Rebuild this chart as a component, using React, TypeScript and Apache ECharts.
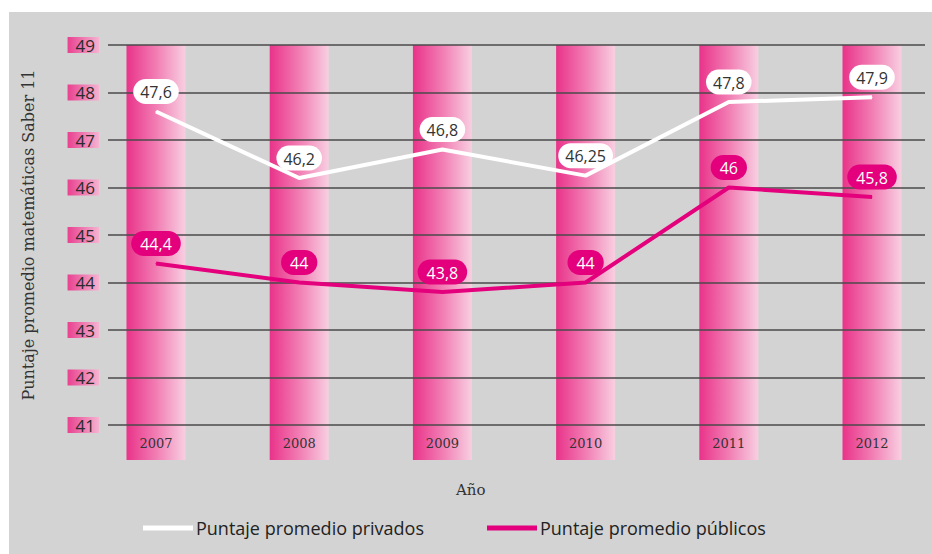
import React, { useEffect, useRef } from "react";
import * as echarts from "echarts";

const categories = ["2007", "2008", "2009", "2010", "2011", "2012"];
const privados = [47.6, 46.2, 46.8, 46.25, 47.8, 47.9];
const publicos = [44.4, 44, 43.8, 44, 46, 45.8];
const yTicks = { min: 41, max: 49, interval: 1 };
const seriesNames = ["Puntaje promedio privados", "Puntaje promedio públicos"];
const yAxisTitle = "Puntaje promedio matemáticas Saber 11";
const xAxisTitle = "Año";

const fmt = (v: number) => String(v).replace(".", ",");

export default function App() {
  const ref = useRef<HTMLDivElement>(null);
  useEffect(() => {
    if (!ref.current) return;
    const chart = echarts.init(ref.current, null, { renderer: "svg" });
    const xMin = -0.3352;
    const xMax = 5.37;
    const sans = "Open Sans";
    const serif = "DejaVu Serif";
    const option: any = {
      animation: false,
      backgroundColor: "#ffffff",
      graphic: {
        elements: [
          {
            type: "rect",
            z: -10,
            shape: { x: 9, y: 12, width: 923, height: 542 },
            style: { fill: "#d3d3d3" },
            silent: true,
          },
          {
            type: "text",
            left: 456,
            top: 482,
            style: {
              text: xAxisTitle,
              fill: "#333",
              font: "15px 'DejaVu Serif'",
            },
          },
        ],
      },
      grid: [
        { left: 108, right: 7, top: 45, height: 380 },
        { left: 108, right: 7, top: 45, height: 415 },
      ],
      xAxis: [
        { type: "value", gridIndex: 0, min: xMin, max: xMax, show: false, splitLine: { show: false } },
        { type: "value", gridIndex: 1, min: xMin, max: xMax, show: false, splitLine: { show: false } },
      ],
      yAxis: [
        {
          type: "value",
          gridIndex: 0,
          min: yTicks.min,
          max: yTicks.max,
          interval: yTicks.interval,
          axisLine: { show: false },
          axisTick: { show: false },
          splitLine: { show: true, lineStyle: { color: "#4a4a4a", width: 1.5 } },
          axisLabel: {
            margin: 9,
            fontFamily: sans,
            fontSize: 17,
            color: "#2b2b2b",
            lineHeight: 16,
            padding: [0, 4, 0, 8],
            backgroundColor: new echarts.graphic.LinearGradient(0, 0, 1, 0, [
              { offset: 0, color: "#e8418f" },
              { offset: 1, color: "#f5b3d0" },
            ]),
          },
          name: yAxisTitle,
          nameLocation: "middle",
          nameGap: 72,
          nameRotate: 90,
          nameTextStyle: { fontFamily: serif, fontSize: 16, color: "#333" },
        },
        { type: "value", gridIndex: 1, min: 0, max: 1, show: false, splitLine: { show: false } },
      ],
      legend: {
        left: 143,
        top: 519,
        padding: 0,
        itemWidth: 50,
        itemHeight: 5,
        itemGap: 63,
        icon: "rect",
        textStyle: { fontFamily: sans, fontSize: 18, color: "#222", padding: [0, 0, 0, -2] },
        data: seriesNames,
      },
      series: [
        {
          type: "bar",
          xAxisIndex: 1,
          yAxisIndex: 1,
          z: -1,
          barWidth: 59,
          data: categories.map((_, i) => [i, 1]),
          itemStyle: {
            color: new echarts.graphic.LinearGradient(0, 0, 1, 0, [
              { offset: 0, color: "#e9338a" },
              { offset: 0.5, color: "#f17db3" },
              { offset: 1, color: "#f8cfe1" },
            ]),
          },
          label: {
            show: true,
            position: "insideBottom",
            distance: 10,
            formatter: (p: any) => categories[p.dataIndex],
            fontFamily: serif,
            fontSize: 13,
            color: "#333",
          },
          silent: true,
        },
        {
          name: seriesNames[0],
          type: "line",
          xAxisIndex: 0,
          yAxisIndex: 0,
          color: "#ffffff",
          symbol: "circle",
          symbolSize: 1,
          lineStyle: { color: "#ffffff", width: 4 },
          data: privados.map((v, i) => [i, v]),
          label: {
            show: true,
            position: "top",
            distance: 7,
            formatter: (p: any) => fmt(p.value[1]),
            backgroundColor: "#ffffff",
            color: "#333",
            fontFamily: sans,
            fontSize: 16,
            padding: [5, 7, 4, 7],
            borderRadius: 14,
          },
        },
        {
          name: seriesNames[1],
          type: "line",
          xAxisIndex: 0,
          yAxisIndex: 0,
          color: "#e4007c",
          symbol: "circle",
          symbolSize: 1,
          lineStyle: { color: "#e4007c", width: 4 },
          data: publicos.map((v, i) => [i, v]),
          label: {
            show: true,
            position: "top",
            distance: 7,
            formatter: (p: any) => fmt(p.value[1]),
            backgroundColor: "#e4007c",
            color: "#ffffff",
            fontFamily: sans,
            fontSize: 16,
            padding: [5, 9, 4, 9],
            borderRadius: 14,
          },
        },
      ],
    };
    chart.setOption(option);
    return () => chart.dispose();
  }, []);
  return (
    <div
      ref={ref}
      style={{ position: "fixed", left: 0, top: 0, width: 932, height: 554 }}
    />
  );
}
